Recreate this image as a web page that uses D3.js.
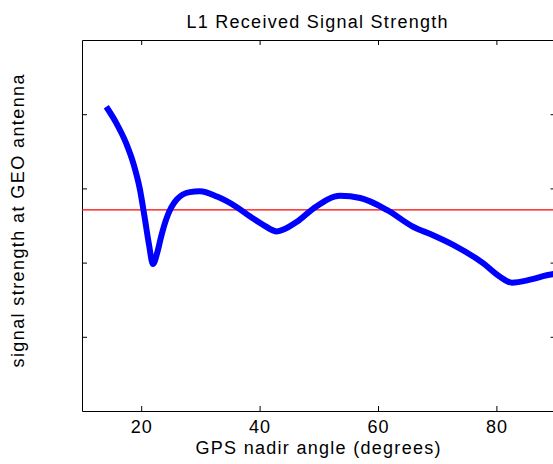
<!DOCTYPE html>
<html>
<head>
<meta charset="utf-8">
<script src="https://cdn.jsdelivr.net/npm/d3@7"></script>
<style>
  body { margin: 0; background: #fff; }
  svg { display: block; font-family: "Liberation Sans", Arial, sans-serif; }
</style>
</head>
<body>
<div id="chart"></div>
<script>
// data (y in arbitrary units, axis has no labels)
var angle = [14.1, 15.8, 17.5, 18.7, 19.8, 20.6, 21.3, 22.0, 22.7, 23.4, 24.3, 26.0, 28.2, 29.9,
             32.8, 36.1, 38.4, 40.6, 42.9, 46.3, 49.1, 53.6, 57.0, 61.5, 66.0, 69.3, 72.7,
             77.8, 80.6, 82.6, 85.7, 88.5, 90.0];
var strength = [4.10, 3.88, 3.60, 3.33, 2.98, 2.60, 2.25, 1.98, 2.13, 2.36, 2.60, 2.85, 2.95, 2.96,
                2.89, 2.75, 2.62, 2.51, 2.42, 2.55, 2.73, 2.90, 2.87, 2.71, 2.48, 2.37, 2.24,
                1.99, 1.81, 1.73, 1.77, 1.83, 1.85];
var threshold = 2.71;
var xTicks = [20, 40, 60, 80];
var yTicks = [1, 2, 3, 4];

var W = 553, H = 464;
var margin = {top: 40, left: 82, bottom: 411, right: 555.6};

var svg = d3.select("#chart").append("svg")
    .attr("width", W)
    .attr("height", H);

svg.append("rect").attr("width", W).attr("height", H).attr("fill", "#fff");

var x = d3.scaleLinear().domain([10, 90]).range([margin.left, margin.right]);
var y = d3.scaleLinear().domain([0, 5]).range([margin.bottom, margin.top]);

// axes, ticks pointing inward like matlab
var bottom = svg.append("g")
    .attr("transform", "translate(0," + margin.bottom + ")")
    .call(d3.axisBottom(x).tickValues(xTicks).tickSizeInner(-5).tickSizeOuter(0).tickPadding(9));
svg.append("g")
    .attr("transform", "translate(0," + margin.top + ")")
    .call(d3.axisTop(x).tickValues(xTicks).tickSizeInner(-5).tickSizeOuter(0).tickFormat(""));
svg.append("g")
    .attr("transform", "translate(" + margin.left + ",0)")
    .call(d3.axisLeft(y).tickValues(yTicks).tickSizeInner(-5).tickSizeOuter(0).tickFormat(""));
svg.append("g")
    .attr("transform", "translate(" + margin.right + ",0)")
    .call(d3.axisRight(y).tickValues(yTicks).tickSizeInner(-5).tickSizeOuter(0).tickFormat(""));

svg.selectAll(".domain, .tick line").attr("stroke", "#000").attr("stroke-width", 1);
bottom.selectAll(".tick text")
    .attr("font-size", 18)
    .attr("fill", "#000")
    .style("letter-spacing", "1px")
    .style("font-family", "Liberation Sans, Arial, sans-serif");

// red reference line
svg.append("line")
    .attr("x1", margin.left)
    .attr("x2", margin.right)
    .attr("y1", y(threshold))
    .attr("y2", y(threshold))
    .attr("stroke", "#ff0000")
    .attr("stroke-width", 1.3);

// signal curve
var pts = angle.map(function(a, i) { return {x: a, y: strength[i]}; });
svg.append("path")
    .datum(pts)
    .attr("fill", "none")
    .attr("stroke", "#0000ff")
    .attr("stroke-width", 6)
    .attr("stroke-linejoin", "round")
    .attr("d", d3.line()
        .curve(d3.curveMonotoneX)
        .x(d => x(d.x))
        .y(d => y(d.y)));

// labels (the original font runs wide, so stretch to the measured lengths)
svg.append("text")
    .attr("x", 317)
    .attr("y", 28)
    .attr("text-anchor", "middle")
    .attr("font-size", 18)
    .attr("textLength", 261)
    .attr("lengthAdjust", "spacing")
    .text("L1 Received Signal Strength");

svg.append("text")
    .attr("x", 318)
    .attr("y", 454)
    .attr("text-anchor", "middle")
    .attr("font-size", 18)
    .attr("textLength", 245)
    .attr("lengthAdjust", "spacing")
    .text("GPS nadir angle (degrees)");

svg.append("text")
    .attr("transform", "translate(24,221) rotate(-90)")
    .attr("text-anchor", "middle")
    .attr("font-size", 18)
    .attr("textLength", 293)
    .attr("lengthAdjust", "spacing")
    .text("signal strength at GEO antenna");
</script>
</body>
</html>
